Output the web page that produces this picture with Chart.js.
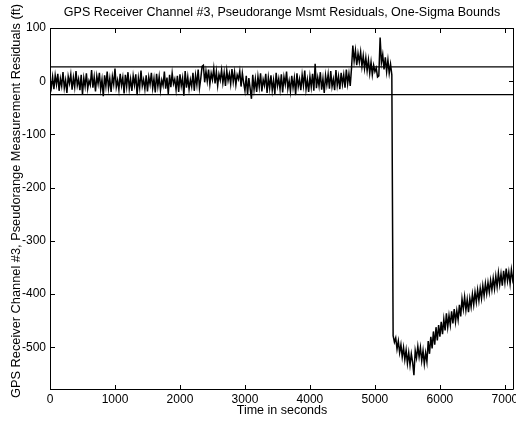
<!DOCTYPE html>
<html lang="en">
<head>
    <meta charset="UTF-8">
    <title>GPS Receiver Channel #3 - Pseudorange Residuals</title>
    <script src="https://cdn.jsdelivr.net/npm/chart.js"></script>
    <style>
        html, body { margin: 0; padding: 0; background: #fff; }
        canvas { display: block; }
    </style>
</head>
<body>
    <canvas id="residualChart" width="516" height="422"></canvas>

    <script>
        // sample spacing (s) of the residual series, starting at t = 0
        const sampleStep = 20;

        // 0 - 2340 s
        const residualsEarly = [
            3, -12, 8, -15, 11, -6, 14, -18, 5, -9, 17, -13, 2, -22, 9, -4, 13, -16, 7, -11,
            19, -8, 4, -17, 12, -25, 6, -10, 15, -14, 1, -7, 21, -12, 8, -19, 10, -5, 16, -15,
            3, -28, 11, -9, 18, -13, 5, -20, 9, -6, 24, -11, 2, -16, 14, -8, 7, -23, 12, -10,
            17, -14, 4, -18, 10, -7, 13, -26, 6, -12, 20, -9, 3, -15, 11, -19, 8, -6, 16, -13,
            5, -21, 14, -10, 9, -17, 2, -8, 18, -14, 7, -24, 12, -11, 15, -5, 4, -16, 10, -20,
            13, -9, 6, -27, 19, -12, 8, -15, 3, -10, 16, -18, 11, -7, 22, -13, 5, 28
        ];
        // 2360 - 2980 s
        const residualsStep = [
            30, -2, 19, 0, 22, -6, 15, 3, 24, -4, 18, -8, 13, 2, 21, -3, 16, -9, 20, 1,
            14, -5, 23, -1, 17, -7, 12, 4, 19, -10, 15, -3
        ];
        // 3000 - 4620 s
        const residualsMid = [
            -18, 10, -25, 6, -14, -33, 12, -16, 4, -20, 9, -11, 15, -19, 3, -8, 14, -22, 7, -13,
            11, -17, 2, -24, 16, -9, 5, -15, 13, -21, 8, -6, 18, -14, 1, -19, 10, -12, 6, -26,
            15, -10, 4, -17, 12, -8, 20, -15, 3, -20, 9, -11, 14, -18, 33, -13, 7, -9, 17, -16,
            5, -22, 11, -7, 13, -14, 19, -10, 4, -17, 21, -8, 9, -15, 16, -6, 12, -12, 22, -5,
            14, -9
        ];
        // 4640 - 5260 s
        const residualsHump = [
            25, 67, 38, 58, 30, 52, 36, 55, 28, 48, 24, 44, 20, 40, 15, 36, 12, 30, 18, 25,
            8, 10, 82, 35, 50, 22, 45, 18, 40, 15, 32, 12
        ];
        // 5280 - 5800 s
        const residualsDrop = [
            -478, -490, -482, -503, -488, -510, -495, -518, -500, -523, -505, -530, -510, -533,
            -512, -528, -552, -506, -520, -498, -518, -500, -525, -506, -531, -510, -527
        ];
        // 5820 - 7140 s
        const residualsRecovery = [
            -488, -512, -480, -502, -470, -495, -462, -487, -458, -480, -452, -475, -447, -468,
            -436, -462, -440, -458, -432, -455, -428, -452, -431, -448, -420, -442, -409, -428,
            -405, -430, -410, -434, -408, -424, -400, -420, -396, -415, -392, -412, -389, -408,
            -384, -403, -380, -399, -378, -396, -374, -392, -370, -390, -366, -386, -360, -382,
            -362, -384, -356, -378, -352, -375, -358, -380, -354, -373, -360
        ];

        const sigmaUpper = 27;
        const sigmaLower = -25;

        const xTicks = [0, 1000, 2000, 3000, 4000, 5000, 6000, 7000];
        const yTicks = [100, 0, -100, -200, -300, -400, -500];
        const xMax = 7140;
        const yMin = -580;
        const yMax = 100;

        const titleText = "GPS Receiver Channel #3, Pseudorange Msmt Residuals, One-Sigma Bounds";
        const yTitleText = "GPS Receiver Channel #3, Pseudorange Measurement Residuals (ft)";
        const fontFamily = "'Liberation Sans', Arial, Helvetica, sans-serif";

        document.addEventListener("DOMContentLoaded", function () {
            const residuals = residualsEarly.concat(residualsStep, residualsMid,
                residualsHump, residualsDrop, residualsRecovery);
            const residualPoints = residuals.map((v, i) => ({ x: i * sampleStep, y: v }));

            // matlab style frame: box, inward ticks on all sides, titles
            const framePlugin = {
                id: "frame",
                afterDraw(chart) {
                    const ctx = chart.ctx;
                    const a = chart.chartArea;
                    const xs = chart.scales.x;
                    const ys = chart.scales.y;
                    const tl = 5;
                    ctx.save();
                    ctx.strokeStyle = "#000";
                    ctx.lineWidth = 1;
                    ctx.beginPath();
                    ctx.rect(Math.round(a.left) + 0.5, Math.round(a.top) + 0.5,
                        Math.round(a.right - a.left) - 1, Math.round(a.bottom - a.top) - 1);
                    xTicks.forEach(v => {
                        const px = Math.round(xs.getPixelForValue(v)) + 0.5;
                        ctx.moveTo(px, a.bottom);
                        ctx.lineTo(px, a.bottom - tl);
                        ctx.moveTo(px, a.top);
                        ctx.lineTo(px, a.top + tl);
                    });
                    yTicks.forEach(v => {
                        const py = Math.round(ys.getPixelForValue(v)) + 0.5;
                        ctx.moveTo(a.left, py);
                        ctx.lineTo(a.left + tl, py);
                        ctx.moveTo(a.right, py);
                        ctx.lineTo(a.right - tl, py);
                    });
                    ctx.stroke();

                    ctx.fillStyle = "#000";
                    ctx.font = "12.5px " + fontFamily;
                    ctx.textAlign = "center";
                    ctx.textBaseline = "middle";
                    ctx.fillText(titleText, (a.left + a.right) / 2, 13);

                    // y label sits a little above the axis middle, as in the original
                    ctx.translate(16, (a.top + a.bottom) / 2 - 8);
                    ctx.rotate(-Math.PI / 2);
                    ctx.font = "12.8px " + fontFamily;
                    ctx.fillText(yTitleText, 0, 0);
                    ctx.restore();
                }
            };

            const ctx = document.getElementById("residualChart").getContext("2d");
            new Chart(ctx, {
                type: "line",
                data: {
                    datasets: [
                        {
                            label: "Residual",
                            data: residualPoints,
                            borderColor: "#000",
                            borderWidth: 1.5,
                            pointRadius: 0,
                            tension: 0
                        },
                        {
                            label: "+1 sigma",
                            data: [{ x: 0, y: sigmaUpper }, { x: xMax, y: sigmaUpper }],
                            borderColor: "#000",
                            borderWidth: 1.2,
                            pointRadius: 0
                        },
                        {
                            label: "-1 sigma",
                            data: [{ x: 0, y: sigmaLower }, { x: xMax, y: sigmaLower }],
                            borderColor: "#000",
                            borderWidth: 1.2,
                            pointRadius: 0
                        }
                    ]
                },
                options: {
                    responsive: false,
                    animation: false,
                    parsing: false,
                    layout: { padding: { top: 28, right: 2, bottom: 0, left: 0 } },
                    plugins: {
                        legend: { display: false },
                        tooltip: { enabled: false },
                        title: { display: false }
                    },
                    scales: {
                        x: {
                            type: "linear",
                            min: 0,
                            max: xMax,
                            grid: { display: false, drawTicks: false },
                            border: { display: false },
                            afterFit(scale) {
                                scale.height = 32;
                                scale.paddingLeft = 0;
                                scale.paddingRight = 0;
                            },
                            afterBuildTicks(scale) { scale.ticks = xTicks.map(v => ({ value: v })); },
                            ticks: {
                                color: "#000",
                                padding: 2,
                                maxRotation: 0,
                                callback: v => String(v),
                                font: { family: fontFamily, size: 12 }
                            },
                            title: {
                                display: true,
                                text: "Time in seconds",
                                color: "#000",
                                padding: { top: 0, bottom: 4 },
                                font: { family: fontFamily, size: 12.5 }
                            }
                        },
                        y: {
                            min: yMin,
                            max: yMax,
                            grid: { display: false, drawTicks: false },
                            border: { display: false },
                            afterFit(scale) { scale.width = 50; },
                            afterBuildTicks(scale) { scale.ticks = yTicks.map(v => ({ value: v })); },
                            ticks: {
                                color: "#000",
                                padding: 4,
                                callback: v => String(v),
                                font: { family: fontFamily, size: 12 }
                            }
                        }
                    }
                },
                plugins: [framePlugin]
            });
        });
    </script>
</body>
</html>
